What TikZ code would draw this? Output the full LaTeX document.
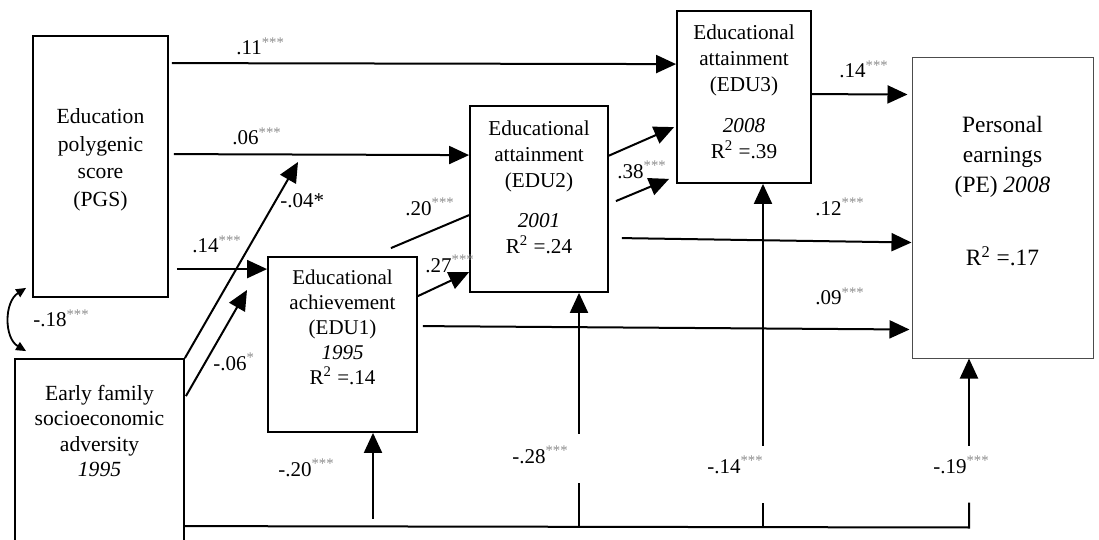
\documentclass[tikz,border=0pt]{standalone}
\usepackage{fontspec}
\setmainfont{Liberation Serif}
\usetikzlibrary{arrows.meta,calc}
\definecolor{stargray}{gray}{0.55}
\newcommand{\sigstars}[1]{\textsuperscript{\color{stargray}#1}}
\tikzset{
  box/.style={draw,line width=0.9pt,inner sep=0pt},
  boxtext/.style={align=center,inner sep=0pt,font=\fontsize{10.6}{13}\selectfont},
  effect/.style={line width=1pt,-{Triangle[length=10pt,width=9pt]}},
  segment/.style={line width=1pt},
  corr/.style={line width=0.9pt,{Triangle[length=5pt,width=4.5pt]}-{Triangle[length=5pt,width=4.5pt]}},
  coef/.style={anchor=base west,inner sep=0pt,font=\fontsize{10.5}{12}\selectfont}
}

\begin{document}
\begin{tikzpicture}[x=0.5pt,y=-0.5pt]
\useasboundingbox (0,0) rectangle (1099,540);
% the boxes
\node[box,minimum width=67.5pt,minimum height=130.5pt] (pgs) at (100.5,166.5) {};
\node[box,minimum width=84.5pt,minimum height=110.5pt] (efa) at (99.5,469.5) {};
\node[box,minimum width=74.5pt,minimum height=87.5pt] (edu1) at (342.5,344.5) {};
\node[box,minimum width=69pt,minimum height=93pt] (edu2) at (539,199) {};
\node[box,minimum width=67pt,minimum height=86pt] (edu3) at (744,97) {};
\node[box,draw=gray!60!black,line width=0.5pt,minimum width=90.5pt,minimum height=150pt] (pe) at (1002.5,208) {};
% the texts in the boxes
\node[boxtext,font=\fontsize{10.8}{13.8}\selectfont] (pgstxt) at (100.5,160) {Education\\polygenic\\score\\(PGS)};
\node[boxtext,font=\fontsize{10.8}{12.8}\selectfont] (efatxt) at (99.5,431) {Early family\\socioeconomic\\adversity\\\textit{1995}};
\node[boxtext,font=\fontsize{10.5}{12.5}\selectfont] (edu1txt) at (342.5,327) {Educational\\achievement\\(EDU1)\\\textit{1995}\\R\textsuperscript{2} =.14};
\node[boxtext] (edu2txt) at (539,187.5) {Educational\\attainment\\(EDU2)\\[7pt]\textit{2001}\\R\textsuperscript{2} =.24};
\node[boxtext] (edu3txt) at (744,91.5) {Educational\\attainment\\(EDU3)\\[7.5pt]\textit{2008}\\R\textsuperscript{2} =.39};
\node[boxtext,font=\fontsize{11.7}{15}\selectfont] (petxt) at (1002.5,191.5) {Personal\\earnings\\(PE) \textit{2008}\\[21.5pt]R\textsuperscript{2} =.17};

% paths between the boxes
\coordinate (tipa) at (298,162);
\coordinate (tipb) at (247,290);
\draw[effect] ($(pgs.north east)+(3,28)$) -- ($(edu3.north west)+(0,54)$);
\draw[effect] ($(pgs.north east)+(5,119)$) -- ($(edu2.north west)+(0,50)$);
\draw[effect] ($(pgs.north east)+(8,234)$) -- ($(edu1.north west)+(0,13)$);
\draw[effect] (efa.north east) -- (tipa);
\draw[effect] ($(efa.north east)+(1,38)$) -- (tipb);
\draw[segment] ($(edu1.north east)+(-27,-8)$) -- ($(edu2.north west)+(0,110)$);
\draw[effect] ($(edu1.north east)+(0,40)$) -- ($(edu2.north west)+(0,167)$);
\draw[effect] ($(edu2.north east)+(-1,51)$) -- ($(edu3.north west)+(-2,117)$);
\draw[effect] ($(edu2.north east)+(7,96)$) -- ($(edu3.south west)+(-7,-5)$);
\draw[effect] ($(edu3.north east)+(0,84)$) -- ($(pe.north west)+(-4,37)$);
\draw[effect] ($(edu2.north east)+(13,133)$) -- ($(pe.north west)+(0,185)$);
\draw[effect] ($(edu1.north east)+(5,70)$) -- ($(pe.north west)+(-2,272)$);

% adversity along the bottom
\coordinate (bus) at ($(efa.north east)+(0,168)$);
\draw[segment] (bus) -- ($(pe.south)+(-33.5,169)$) -- ($(pe.south)+(-33.5,144)$);
\draw[effect] ($(pe.south)+(-33.5,87)$) -- ($(pe.south)+(-33.5,0)$);
\draw[segment] ($(edu3.south)+(19,344)$) -- ($(edu3.south)+(19,319)$);
\draw[effect] ($(edu3.south)+(19,262)$) -- ($(edu3.south)+(19,0)$);
\draw[segment] ($(edu2.south)+(40,235)$) -- ($(edu2.south)+(40,190)$);
\draw[effect] ($(edu2.south)+(40,141)$) -- ($(edu2.south)+(40,0)$);
\draw[effect] ($(edu1.south)+(30.5,86)$) -- ($(edu1.south)+(30.5,0)$);

% correlation
\coordinate (corrtop) at ($(pgs.south west)+(-6,-10)$);
\coordinate (corrbot) at ($(efa.north west)+(12,-7)$);
\draw[corr] (corrtop) .. controls (4,302) and (4,338) .. (corrbot);

% the labels
\node[coef] (c11) at (236,55) {.11\sigstars{***}};
\node[coef] (c06) at (232,145) {.06\sigstars{***}};
\node[coef] (c14a) at (192,253) {.14\sigstars{***}};
\node[coef] (c04) at (280,207) {-.04*};
\node[coef] (c06n) at (213,370) {-.06\sigstars{*}};
\node[coef] (c20) at (405,215) {.20\sigstars{***}};
\node[coef] (c27) at (425,272) {.27\sigstars{***}};
\node[coef] (c38) at (617,178) {.38\sigstars{***}};
\node[coef] (c14b) at (839,78) {.14\sigstars{***}};
\node[coef] (c12) at (815,215) {.12\sigstars{***}};
\node[coef] (c09) at (815,305) {.09\sigstars{***}};
\node[coef] (c18) at (33,327) {-.18\sigstars{***}};
\node[coef] (c20n) at (278,476) {-.20\sigstars{***}};
\node[coef] (c28) at (512,463) {-.28\sigstars{***}};
\node[coef] (c14n) at (707,473) {-.14\sigstars{***}};
\node[coef] (c19) at (933,473) {-.19\sigstars{***}};
\end{tikzpicture}
\end{document}
